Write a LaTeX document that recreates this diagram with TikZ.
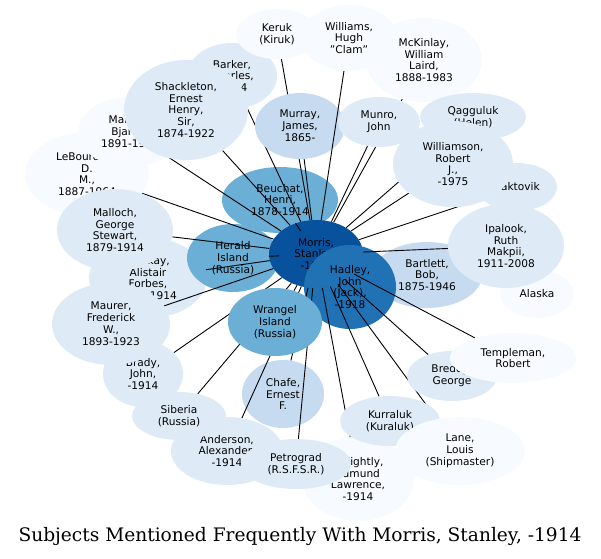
\documentclass[tikz,border=0pt]{standalone}
\usepackage{fontspec}
\setmainfont{DejaVu Sans}
\newfontfamily\titlefont{DejaVu Serif}
\usetikzlibrary{shapes.geometric}
\definecolor{blu1}{HTML}{F7FBFF}
\definecolor{blu2}{HTML}{DEEBF7}
\definecolor{blu3}{HTML}{C6DBEF}
\definecolor{blu5}{HTML}{6BAED6}
\definecolor{blu7}{HTML}{2171B5}
\definecolor{blu8}{HTML}{08519C}
\pgfdeclarelayer{back}
\pgfdeclarelayer{mid}
\pgfdeclarelayer{front}
\pgfsetlayers{back,main,mid,front}

\begin{document}
\begin{tikzpicture}[x=1pt, y=-1pt,
        bub/.style={ellipse, inner sep=0pt, align=center,
                    font=\fontsize{10.6}{11.9}\selectfont},
        sz/.style 2 args={minimum width=#1pt, minimum height=#2pt},
        link/.style={black, line width=0.9pt}
    ]
    \useasboundingbox (0,0) rectangle (601,558);
    % inner ring
    \begin{pgfonlayer}{back}
        \node[bub, sz={118}{80}, fill=blu2] (mackay) at (148,278) {Mackay,\\Alistair\\Forbes,\\1878-1914};
        \node[bub, sz={116}{66}, fill=blu5] (beuchat) at (280,200) {Beuchat,\\Henri,\\1878-1914};
        \node[bub, sz={92}{68}, fill=blu5] (herald) at (233,258) {Herald\\Island\\(Russia)};
        \node[bub, sz={82}{68}, fill=blu3] (chafe) at (283,394) {Chafe,\\Ernest\\F.};
        \node[bub, sz={110}{66}, fill=blu3] (bartlett) at (427,275) {Bartlett,\\Bob,\\1875-1946};
        \node[bub, sz={94}{68}, fill=blu8] (morris) at (316,254) {Morris,\\Stanley,\\-1914};
        \node[bub, sz={92}{84}, fill=blu7] (hadley) at (350,287) {Hadley,\\John\\(Jack),\\-1918};
    \end{pgfonlayer}
    \begin{pgfonlayer}{mid}
        \node[bub, sz={90}{66}, fill=blu3] (murray) at (300,126) {Murray,\\James,\\1865-};
    \end{pgfonlayer}
    % outer ring
    \begin{pgfonlayer}{front}
        \node[bub, sz={90}{66}, fill=blu2] (barker) at (232,76) {Barker,\\Charles,\\-1914};
        \node[bub, sz={82}{50}, fill=blu1] (keruk) at (277,34) {Keruk\\(Kiruk)};
        \node[bub, sz={96}{66}, fill=blu1] (williams) at (349,38) {Williams,\\Hugh\\"Clam"};
        \node[bub, sz={116}{84}, fill=blu1] (mckinlay) at (424,60) {McKinlay,\\William\\Laird,\\1888-1983};
        \node[bub, sz={106}{48}, fill=blu2] (qagguluk) at (473,117) {Qagguluk\\(Helen)};
        \node[bub, sz={80}{48}, fill=blu2] (kaktovik) at (517,187) {Kaktovik};
        \node[bub, sz={120}{86}, fill=blu2] (williamson) at (453,164) {Williamson,\\Robert\\J.,\\-1975};
        \node[bub, sz={82}{50}, fill=blu2] (munro) at (379,122) {Munro,\\John};
        \node[bub, sz={74}{48}, fill=blu1] (alaska) at (537,294) {Alaska};
        \node[bub, sz={116}{84}, fill=blu2] (ipalook) at (506,246) {Ipalook,\\Ruth\\Makpii,\\1911-2008};
        \node[bub, sz={124}{84}, fill=blu1] (lebourdais) at (87,174) {LeBourdais,\\D.\\M.,\\1887-1964};
        \node[bub, sz={104}{70}, fill=blu1] (mamen) at (130,132) {Mamen,\\Bjarne,\\1891-1914};
        \node[bub, sz={124}{100}, fill=blu2] (shackleton) at (186,110) {Shackleton,\\Ernest\\Henry,\\Sir,\\1874-1922};
        \node[bub, sz={116}{82}, fill=blu2] (malloch) at (115,230) {Malloch,\\George\\Stewart,\\1879-1914};
        \node[bub, sz={80}{66}, fill=blu2] (brady) at (143,374) {Brady,\\John,\\-1914};
        \node[bub, sz={118}{82}, fill=blu2] (maurer) at (111,324) {Maurer,\\Frederick\\W.,\\1893-1923};
        \node[bub, sz={112}{68}, fill=blu2] (anderson) at (227,451) {Anderson,\\Alexander,\\-1914};
        \node[bub, sz={94}{48}, fill=blu2] (siberia) at (179,416) {Siberia\\(Russia)};
        \node[bub, sz={112}{84}, fill=blu1] (golightly) at (358,479) {Golightly,\\Edmund\\Lawrence,\\-1914};
        \node[bub, sz={110}{50}, fill=blu2] (petrograd) at (296,464) {Petrograd\\(R.S.F.S.R.)};
        \node[bub, sz={100}{50}, fill=blu2] (kurraluk) at (390,421) {Kurraluk\\(Kuraluk)};
        \node[bub, sz={130}{68}, fill=blu1] (lane) at (460,451) {Lane,\\Louis\\(Shipmaster)};
        \node[bub, sz={90}{50}, fill=blu2] (breddy) at (452,376) {Breddy,\\George};
        \node[bub, sz={126}{50}, fill=blu1] (templeman) at (513,358) {Templeman,\\Robert};
        \node[bub, sz={94}{68}, fill=blu5] (wrangel) at (275,322) {Wrangel\\Island\\(Russia)};
    \end{pgfonlayer}
    % connectors
    \draw[link] (morris) -- (keruk);
    \draw[link] (morris) -- (barker);
    \draw[link] (morris) -- (shackleton);
    \draw[link] (morris) -- (mamen);
    \draw[link] (morris) -- (lebourdais);
    \draw[link] (morris) -- (malloch);
    \draw[link] (morris) -- (mackay);
    \draw[link] (morris) -- (maurer);
    \draw[link] (morris) -- (brady);
    \draw[link] (morris) -- (siberia);
    \draw[link] (morris) -- (anderson);
    \draw[link] (morris) -- (petrograd);
    \draw[link] (morris) -- (golightly);
    \draw[link] (morris) -- (kurraluk);
    \draw[link] (morris) -- (lane);
    \draw[link] (morris) -- (breddy);
    \draw[link] (morris) -- (templeman);
    \draw[link] (morris) -- (ipalook);
    \draw[link] (morris) -- (kaktovik);
    \draw[link] (morris) -- (williamson);
    \draw[link] (morris) -- (qagguluk);
    \draw[link] (morris) -- (munro);
    \draw[link] (morris) -- (mckinlay);
    \draw[link] (morris) -- (murray);
    \draw[link] (morris) -- (beuchat);
    \draw[link] (morris) -- (herald);
    \draw[link] (morris) -- (wrangel);
    \draw[link] (morris) -- (chafe);
    \begin{pgfonlayer}{mid}
        \draw[link] (morris) -- (williams);
    \end{pgfonlayer}
    \node[font=\titlefont\fontsize{18.6}{22}\selectfont] (title) at (300,536)
        {Subjects Mentioned Frequently With Morris, Stanley, -1914};
\end{tikzpicture}
\end{document}
